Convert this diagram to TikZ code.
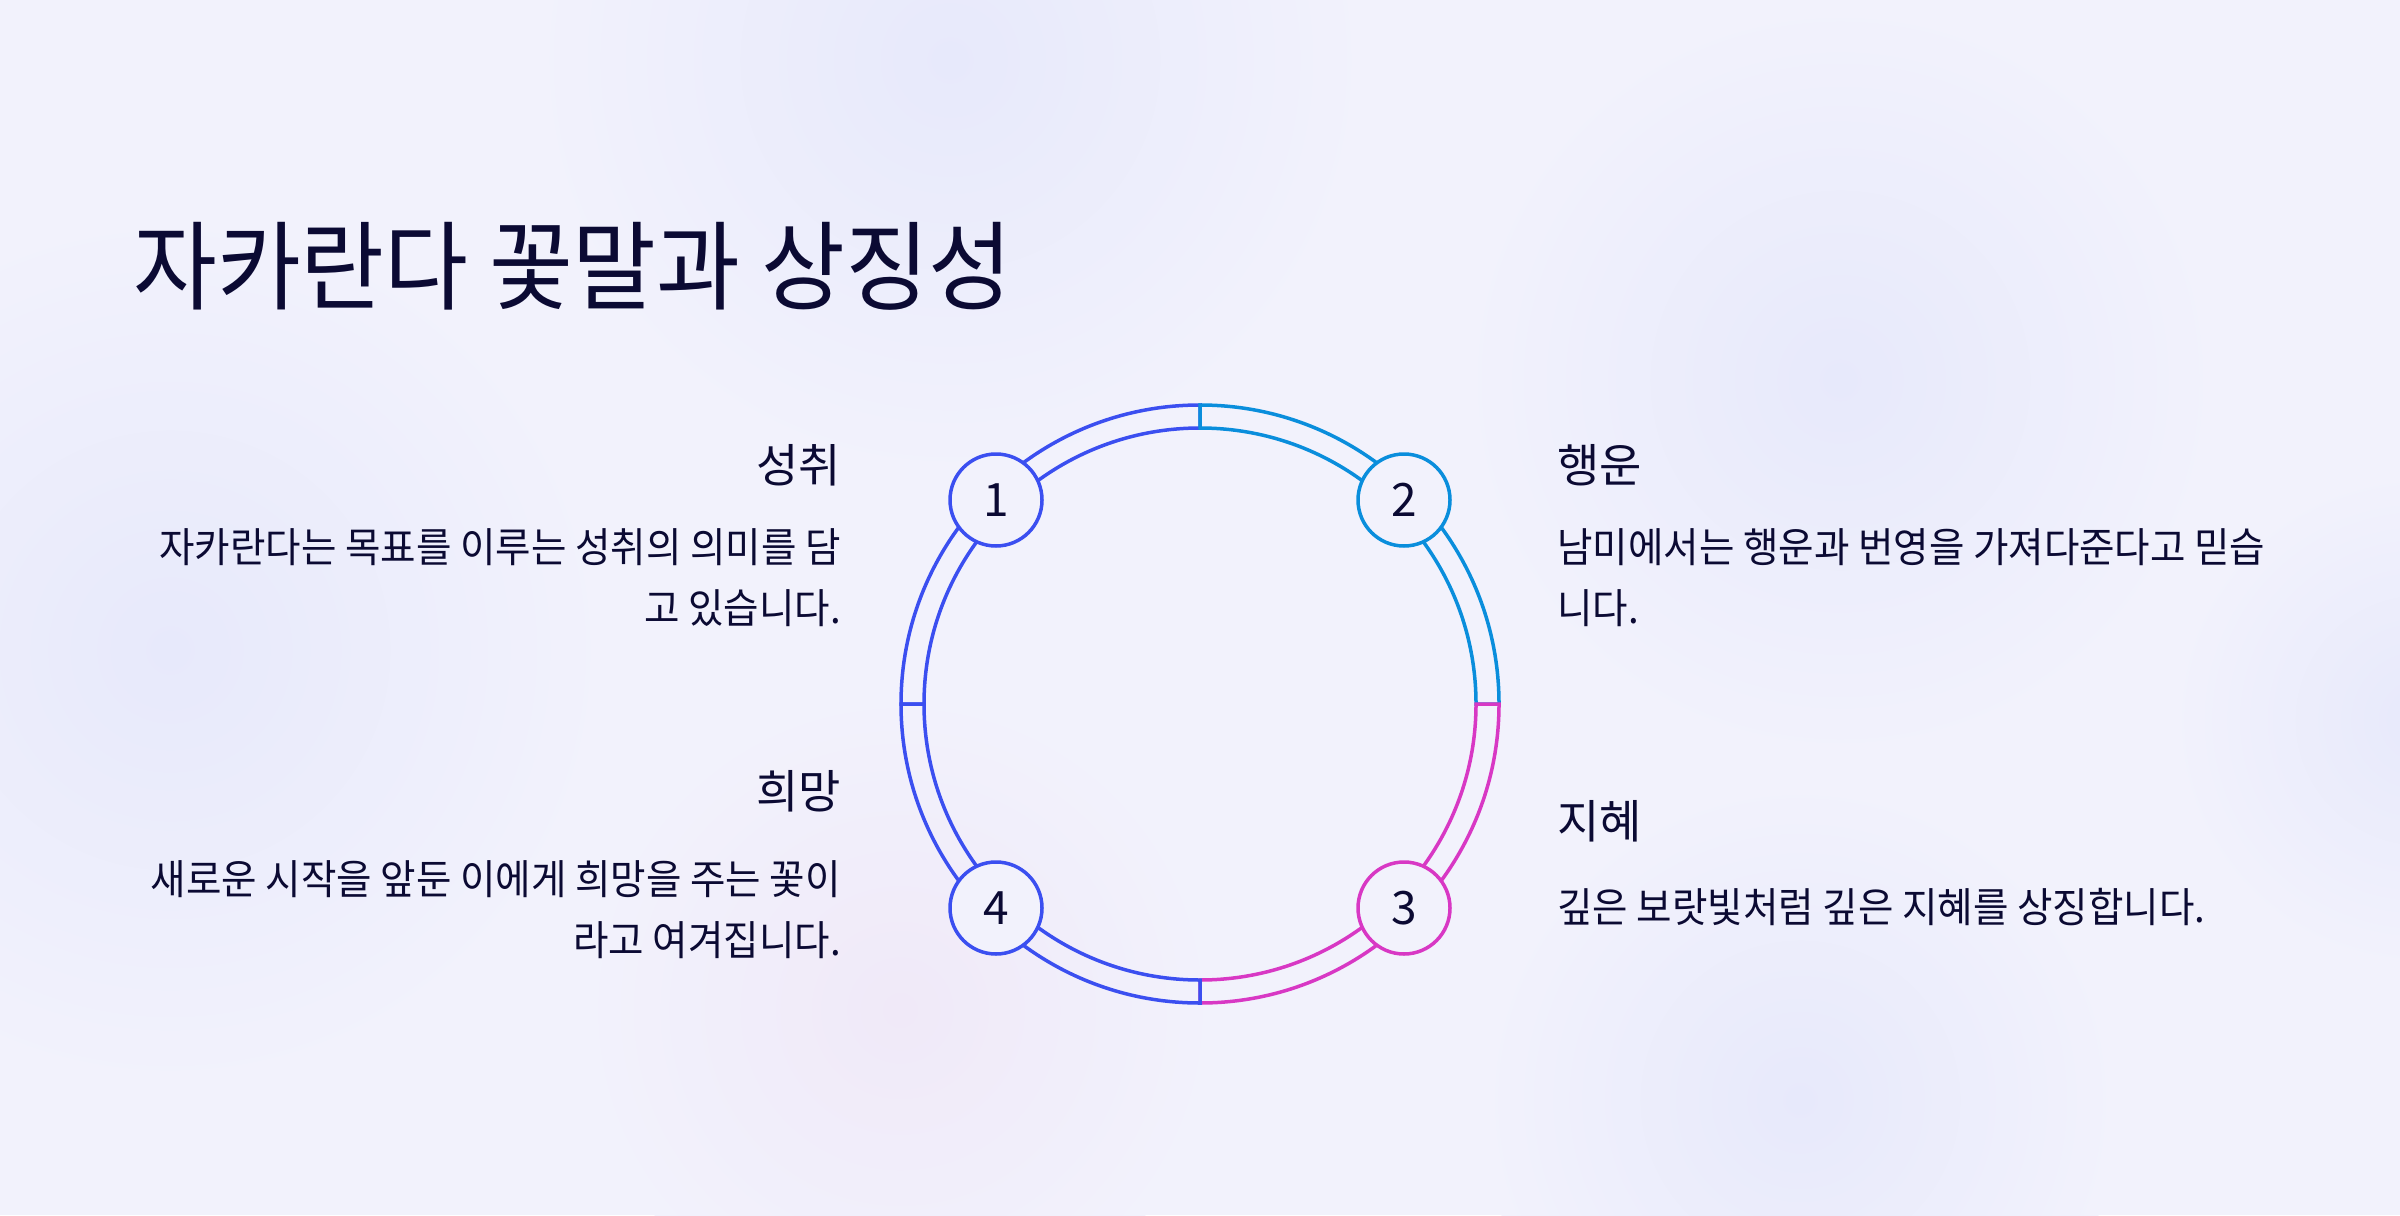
\documentclass[tikz,border=0pt]{standalone}
\usepackage{fontspec}
\newfontfamily\krfont[FakeStretch=0.94]{Noto Sans CJK KR}
\newfontfamily\numfont{Noto Sans CJK KR}
\definecolor{bgc}{HTML}{F2F2FC}
\definecolor{blobA}{HTML}{E7E9FB}
\definecolor{blobB}{HTML}{F0E9F8}
\definecolor{blueC}{HTML}{3B4FF0}
\definecolor{cyanC}{HTML}{0A8EDC}
\definecolor{magC}{HTML}{D838C4}
\definecolor{inkC}{HTML}{0B0A33}
\tikzset{
  ringline/.style={line width=3.5pt},
  numc/.style={circle, minimum size=92pt, inner sep=0pt, line width=3.5pt, fill=bgc, text=inkC, font=\numfont\fontsize{46}{50}\selectfont},
  titlet/.style={inner sep=0pt, text=inkC, font=\krfont\fontsize{97}{110}\selectfont},
  headt/.style={inner sep=0pt, text=inkC, font=\numfont\fontsize{46}{52}\selectfont},
  bodyt/.style={inner sep=0pt, text=inkC, font=\krfont\fontsize{41}{61}\selectfont}
}
\begin{document}
\begin{tikzpicture}[x=1pt,y=-1pt]
\fill[bgc] (0,0) rectangle (2400,1215);
\useasboundingbox (0,0) rectangle (2400,1215);
% soft background blobs
\shade[inner color=blobA, outer color=bgc] (950,60) circle (420);
\shade[inner color=blobA, outer color=bgc] (1840,380) circle (380);
\shade[inner color=blobA, outer color=bgc] (170,650) circle (440);
\shade[inner color=blobA, outer color=bgc] (1800,1100) circle (320);
\shade[inner color=blobB, outer color=bgc] (900,1010) circle (320);
\shade[inner color=blobA, outer color=bgc] (2420,720) circle (250);
% ring
\begin{scope}[shift={(1200,704)}, yscale=-1]
  \draw[ringline, blueC] (90:276) arc[start angle=90, end angle=180, radius=276] -- (180:299) arc[start angle=180, end angle=90, radius=299] -- cycle;
  \draw[ringline, cyanC] (0:276) arc[start angle=0, end angle=90, radius=276] -- (90:299) arc[start angle=90, end angle=0, radius=299] -- cycle;
  \draw[ringline, magC] (270:276) arc[start angle=270, end angle=360, radius=276] -- (360:299) arc[start angle=360, end angle=270, radius=299] -- cycle;
  \draw[ringline, blueC] (180:276) arc[start angle=180, end angle=270, radius=276] -- (270:299) arc[start angle=270, end angle=180, radius=299] -- cycle;
\end{scope}
% numbered circles
\node[numc, draw=blueC] (n1) at (996,500) {1};
\node[numc, draw=cyanC] (n2) at (1404,500) {2};
\node[numc, draw=magC] (n3) at (1404,908) {3};
\node[numc, draw=blueC] (n4) at (996,908) {4};
% title
\node[titlet, anchor=base west] (title) at (133,302) {자카란다 꽃말과 상징성};
% right side
\node[headt, anchor=base west] (h2) at (1557,482) {행운};
\node[bodyt, anchor=base west] (b2a) at (1557,562) {남미에서는 행운과 번영을 가져다준다고 믿습};
\node[bodyt, anchor=base west] (b2b) at (1557,623) {니다.};
\node[headt, anchor=base west] (h3) at (1557,838) {지혜};
\node[bodyt, anchor=base west] (b3a) at (1557,922) {깊은 보랏빛처럼 깊은 지혜를 상징합니다.};
% left side
\node[headt, anchor=base east] (h1) at (841,482) {성취};
\node[bodyt, anchor=base east] (b1a) at (841,562) {자카란다는 목표를 이루는 성취의 의미를 담};
\node[bodyt, anchor=base east] (b1b) at (841,623) {고 있습니다.};
\node[headt, anchor=base east] (h4) at (841,808) {희망};
\node[bodyt, anchor=base east] (b4a) at (841,894) {새로운 시작을 앞둔 이에게 희망을 주는 꽃이};
\node[bodyt, anchor=base east] (b4b) at (841,955) {라고 여겨집니다.};
\end{tikzpicture}
\end{document}
